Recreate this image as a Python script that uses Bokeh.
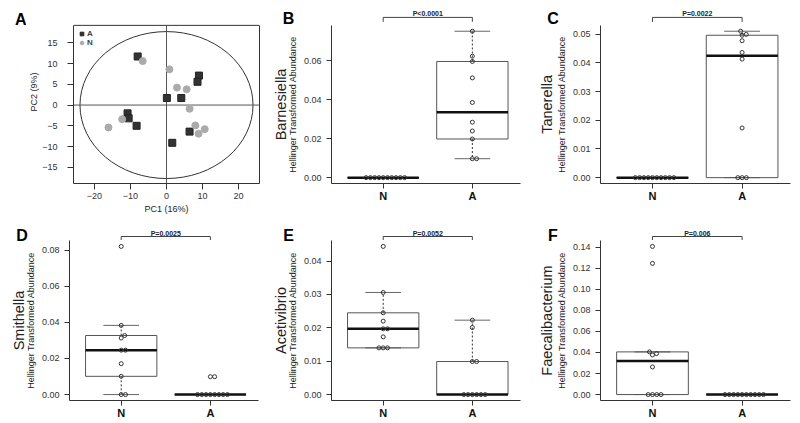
import numpy as np
from bokeh.plotting import figure
from bokeh.layouts import row, column
from bokeh.models import Range1d, FixedTicker, NumeralTickFormatter, Span, LinearAxis
from bokeh.core.properties import value
from bokeh.embed import file_html
from bokeh.resources import INLINE

FONT = "Liberation Sans"

# ---------------- Panel A: PCA scores ----------------
pca_A_pc1 = [-8.0, 9.0, 8.6, 0.1, 4.1, -10.8, -10.5, -8.3, 6.4, 1.6]
pca_A_pc2 = [11.7, 7.1, 5.6, 1.7, 1.7, -2.0, -3.2, -5.0, -6.4, -9.1]
pca_N_pc1 = [-6.6, 0.8, 2.9, 5.6, 6.4, -12.3, -16.1, 8.0, 10.6, 8.9]
pca_N_pc2 = [10.6, 8.6, 4.2, 3.8, -0.9, -3.4, -5.4, -4.9, -5.8, -6.9]
pca_x_ticks = [-20, -10, 0, 10, 20]
pca_y_ticks = [-15, -10, -5, 0, 5, 10, 15]
pca_ellipse = [0.0, 0.0, 48.0, 35.4]   # centre x, centre y, width, height

# ---------------- Panels B-F: Hellinger abundances ----------------
groups = ["N", "A"]
barnesiella_N = [0, 0, 0, 0, 0, 0, 0, 0, 0, 0]
barnesiella_A = [0.075, 0.0622, 0.0595, 0.0511, 0.0385, 0.0284, 0.0239, 0.0198, 0.0097, 0.0097]
barnesiella_ticks = [0.0, 0.02, 0.04, 0.06]
tanerella_N = [0, 0, 0, 0, 0, 0, 0, 0, 0, 0]
tanerella_A = [0.051, 0.0499, 0.0496, 0.0477, 0.0436, 0.0413, 0.0173, 0, 0, 0]
tanerella_ticks = [0.0, 0.01, 0.02, 0.03, 0.04, 0.05]
smithella_N = [0.082, 0.0383, 0.0327, 0.0313, 0.0246, 0.0246, 0.0171, 0.0101, 0, 0]
smithella_A = [0.0099, 0.0099, 0, 0, 0, 0, 0, 0, 0, 0]
smithella_ticks = [0.0, 0.02, 0.04, 0.06, 0.08]
acetivibrio_N = [0.0444, 0.0306, 0.0245, 0.022, 0.0197, 0.0197, 0.0173, 0.014, 0.014, 0.014]
acetivibrio_A = [0.0223, 0.0201, 0.0099, 0.0099, 0, 0, 0, 0, 0, 0]
acetivibrio_ticks = [0.0, 0.01, 0.02, 0.03, 0.04]
faecali_N = [0.1406, 0.1245, 0.0405, 0.0389, 0.0376, 0.0262, 0, 0, 0, 0]
faecali_A = [0, 0, 0, 0, 0, 0, 0, 0, 0, 0]
faecali_ticks = [0.0, 0.02, 0.04, 0.06, 0.08, 0.10, 0.12, 0.14]

# ---------------- layout (page pixels) ----------------
ROW_TOP = [0, 216]
ROW_H = [216, 207]
COL_X = [0, 266, 530]
COL_W = [266, 264, 270]
FRAME_L = [68, 330, 599]
FRAME_R = [258, 520, 790]
AXIS_W = 30                      # room for y tick labels
R_TOP = [25, 240]
R_BOT = [184, 400]               # every plot of a row shares this frame bottom
BRACKET = [(17.0, 21.5, 12.8), (236.0, 239.5, 232.5)]
LETTER_Y = [18.5, 234.5]
LETTER_DX = [46.5, 42, 46.5]
GENUS_DX = [50, 50, 53]
HELL_DX = 37.4

AX = "#333333"
TXT = "#222222"


def fivenum(v):
    s = sorted(v)
    n = len(s)
    n4 = np.floor((n + 3) / 2) / 2
    d = [1, n4, (n + 1) / 2, n + 1 - n4, n]
    return [0.5 * (s[int(np.floor(k)) - 1] + s[int(np.ceil(k)) - 1]) for k in d]


def swarm(vals, center, sx, sy, dmin=4.3):
    order = sorted(range(len(vals)), key=lambda i: vals[i])
    placed = []
    xs = [0.0] * len(vals)
    for i in order:
        yp = vals[i] * sy
        cands = [0.0]
        for (qx, qy) in placed:
            dy = abs(qy - yp)
            if dy < dmin:
                dx = (dmin * dmin - dy * dy) ** 0.5
                cands += [qx + dx, qx - dx]
        cands.sort(key=lambda c: (round(abs(c), 6), c < 0))
        chosen = cands[-1]
        for c in cands:
            if all((c - qx) ** 2 + (yp - qy) ** 2 >= dmin * dmin - 1e-6 for qx, qy in placed):
                chosen = c
                break
        placed.append((chosen, yp))
        xs[i] = center + chosen / sx
    return xs


def text_strip(fx, fw, ri, items):
    """Bare figure whose data space is the page pixel grid (y negated), for free texts."""
    fy, fh, rb = ROW_TOP[ri], ROW_H[ri], R_BOT[ri]
    p = figure(width=fw, height=fh, x_range=Range1d(fx, fx + fw), y_range=Range1d(-rb, -fy),
               x_axis_location=None, y_axis_location=None, output_backend="svg",
               toolbar_location=None, min_border_left=0, min_border_right=0,
               min_border_top=0, min_border_bottom=fy + fh - rb)
    p.outline_line_color = None
    p.grid.visible = False
    p.background_fill_color = "white"
    p.border_fill_color = "white"
    for (px, py, text, size, style, angle, color) in items:
        p.text(x=[px], y=[-py], text=[text], angle=angle, text_font=value(FONT),
               text_font_size=size, text_font_style=style, text_align="center",
               text_baseline="middle", text_color=color)
    return p


def box_panel(ci, ri, letter, genus, ptext, vN, vA, ticks):
    fy, fh = ROW_TOP[ri], ROW_H[ri]
    L, R = FRAME_L[ci], FRAME_R[ci]
    fx = L - AXIS_W
    fw = COL_X[ci] + COL_W[ci] - fx
    rt, rb = R_TOP[ri], R_BOT[ri]
    allv = list(vN) + list(vA)
    lo, hi = min(allv), max(allv)
    ylo, yhi = lo - 0.04 * (hi - lo), hi + 0.04 * (hi - lo)
    upp = (yhi - ylo) / (rb - rt)
    yend = yhi + (rt - fy) * upp
    x0, x1 = 0.42, 2.54
    p = figure(width=fw, height=fh, x_range=Range1d(x0, x1), y_range=Range1d(ylo, yend),
               output_backend="svg", toolbar_location=None,
               min_border_left=L - fx, min_border_right=fx + fw - R,
               min_border_top=0, min_border_bottom=fy + fh - rb)
    p.outline_line_color = None
    p.grid.visible = False
    p.background_fill_color = "white"
    p.border_fill_color = "white"

    def Y(py):
        return yend - (py - fy) * upp

    sx = (R - L) / (x1 - x0)
    sy = 1.0 / upp

    # axes
    p.yaxis.ticker = FixedTicker(ticks=ticks)
    p.yaxis.formatter = NumeralTickFormatter(format="0.00")
    p.yaxis.bounds = (ylo, yhi)
    p.yaxis.major_tick_out = 5
    p.yaxis.major_label_standoff = 5
    p.yaxis.major_label_text_font_size = "9px"
    p.yaxis.major_label_text_color = AX
    p.xaxis.ticker = FixedTicker(ticks=[1, 2])
    p.xaxis.major_label_overrides = {1: groups[0], 2: groups[1]}
    p.xaxis.major_label_text_font_size = "11px"
    p.xaxis.major_label_text_font_style = "bold"
    p.xaxis.major_label_text_color = "#111111"
    p.xaxis.major_label_standoff = 1
    p.xaxis.major_tick_out = 5
    for ax in (p.xaxis, p.yaxis):
        ax.major_label_text_font = FONT
        ax.major_tick_in = 0
        ax.minor_tick_out = 0
        ax.minor_tick_in = 0
        ax.axis_line_color = AX
        ax.major_tick_line_color = AX

    # boxes, whiskers, points
    for c, v in ((1, vN), (2, vA)):
        mn, lh, med, uh, mx = fivenum(v)
        iqr = uh - lh
        uw = max(t for t in v if t <= uh + 1.5 * iqr)
        lw = min(t for t in v if t >= lh - 1.5 * iqr)
        if uw > uh:
            p.segment(x0=[c], y0=[uh], x1=[c], y1=[uw], line_color=AX, line_dash="2 2", line_width=1)
        if lw < lh:
            p.segment(x0=[c], y0=[lh], x1=[c], y1=[lw], line_color=AX, line_dash="2 2", line_width=1)
        p.segment(x0=[c - 0.2, c - 0.2], y0=[uw, lw], x1=[c + 0.2, c + 0.2], y1=[uw, lw],
                  line_color="#666666", line_width=1)
        p.quad(left=[c - 0.4], right=[c + 0.4], bottom=[lh], top=[uh],
               fill_color=None, line_color="#555555", line_width=1)
        p.segment(x0=[c - 0.4], y0=[med], x1=[c + 0.4], y1=[med], line_color="#111111", line_width=2.5)
        xs = swarm(v, c, sx, sy)
        p.scatter(x=xs, y=v, marker="circle", size=4, fill_color=None,
                  line_color="#333333", line_width=1)

    # significance bracket
    by, bt, tyy = BRACKET[ri]
    p.segment(x0=[1, 1, 2], y0=[Y(by), Y(by), Y(by)], x1=[2, 1, 2], y1=[Y(by), Y(bt), Y(bt)],
              line_color="#444444", line_width=1)
    p.text(x=[1.5], y=[Y(tyy)], text=[ptext], text_font=value(FONT), text_font_size="7px",
           text_font_style="bold", text_align="center", text_baseline="middle", text_color=TXT)

    # texts left of the axis
    mid = (rt + rb) / 2.0
    lab = text_strip(COL_X[ci], fx - COL_X[ci], ri, [
        (L - LETTER_DX[ci], LETTER_Y[ri], letter, "16px", "bold", 0.0, "#000000"),
        (L - GENUS_DX[ci], mid, genus, "14.5px", "normal", np.pi / 2, TXT),
        (L - HELL_DX, mid, "Hellinger Transformed Abundance", "9px", "normal", np.pi / 2, TXT),
    ])
    return [lab, p]


# ---------------- Panel A ----------------
xa0, xa1 = -25.8, 25.8
ya0, ya1 = -18.9, 19.2
A_L, A_R, A_T, A_B = 68, 259, 25, R_BOT[0]
A_STRIP = 26
upa = (ya1 - ya0) / (A_B - A_T)
ya_end = ya1 + A_T * upa
pa = figure(width=COL_W[0] - A_STRIP, height=ROW_H[0], x_range=Range1d(xa0, xa1),
            y_range=Range1d(ya0, ya_end), output_backend="svg", toolbar_location=None,
            min_border_left=A_L - A_STRIP, min_border_right=COL_W[0] - A_R, min_border_top=0,
            min_border_bottom=ROW_H[0] - A_B)
pa.grid.visible = False
pa.outline_line_color = None
pa.background_fill_color = "white"
pa.border_fill_color = "white"
pa.add_layout(Span(location=ya1, dimension="width", line_color=AX, line_width=1))
pa.ellipse(x=[pca_ellipse[0]], y=[pca_ellipse[1]], width=[pca_ellipse[2]], height=[pca_ellipse[3]],
           fill_color=None, line_color="#333333", line_width=1)
pa.segment(x0=[0, xa0], y0=[ya0, 0], x1=[0, xa1], y1=[ya1, 0], line_color="#555555", line_width=1)
pa.scatter(x=pca_A_pc1, y=pca_A_pc2, marker="square", size=7, fill_color="#333333",
           line_color="#222222", legend_label="A")
pa.scatter(x=pca_N_pc1, y=pca_N_pc2, marker="circle", size=7, fill_color="#ABABAB",
           line_color="#ABABAB", legend_label="N")
xax = pa.below[0]
yax = pa.left[0]
xax.ticker = FixedTicker(ticks=pca_x_ticks)
yax.ticker = FixedTicker(ticks=pca_y_ticks)
yax.bounds = (ya0, ya1)
xax.major_label_overrides = {t: str(t).replace("-", "\u2212") for t in pca_x_ticks}
yax.major_label_overrides = {t: str(t).replace("-", "\u2212") for t in pca_y_ticks}
for ax in (xax, yax):
    ax.major_tick_out = 6
    ax.major_tick_in = 0
    ax.minor_tick_out = 0
    ax.minor_tick_in = 0
    ax.axis_line_color = AX
    ax.major_tick_line_color = AX
    ax.major_label_text_font = FONT
    ax.major_label_text_font_size = "9px"
    ax.major_label_text_color = AX
    ax.axis_label_text_font = FONT
    ax.axis_label_text_font_size = "9px"
    ax.axis_label_text_font_style = "normal"
    ax.axis_label_text_color = TXT
xax.major_label_standoff = 3
xax.axis_label_standoff = 2
yax.major_label_standoff = 10
yax.axis_label_standoff = 0
xax.axis_label = "PC1 (16%)"
yax.axis_label = "PC2 (9%)"
# right edge of the box: a bare axis line
pa.add_layout(LinearAxis(ticker=FixedTicker(ticks=[]), bounds=(ya0, ya1), axis_line_color=AX,
                         major_tick_out=0, major_tick_in=0, minor_tick_out=0, minor_tick_in=0,
                         major_label_standoff=0, axis_label_standoff=0), "right")
lg = pa.legend[0]
lg.location = (4, A_B - 48)
lg.margin = 0
lg.padding = 0
lg.spacing = 0
lg.glyph_width = 9
lg.glyph_height = 9
lg.label_height = 9
lg.label_standoff = 1
lg.label_text_font = FONT
lg.label_text_font_size = "8px"
lg.label_text_font_style = "bold"
lg.background_fill_alpha = 0
lg.border_line_alpha = 0
stripA = text_strip(COL_X[0], A_STRIP, 0, [(20.2, 19.0, "A", "16px", "bold", 0.0, "#000000")])

pb = box_panel(1, 0, "B", "Barnesiella", "P<0.0001", barnesiella_N, barnesiella_A, barnesiella_ticks)
pc = box_panel(2, 0, "C", "Tanerella", "P=0.0022", tanerella_N, tanerella_A, tanerella_ticks)
pd = box_panel(0, 1, "D", "Smithella", "P=0.0025", smithella_N, smithella_A, smithella_ticks)
pe = box_panel(1, 1, "E", "Acetivibrio", "P=0.0052", acetivibrio_N, acetivibrio_A, acetivibrio_ticks)
pf = box_panel(2, 1, "F", "Faecalibacterium", "P=0.006", faecali_N, faecali_A, faecali_ticks)

top = row(stripA, pa, *pb, *pc, spacing=0)
bottom = row(*pd, *pe, *pf, spacing=0)
layout = column(top, bottom, spacing=0)
open("out.html", "w").write(file_html(layout, INLINE))
